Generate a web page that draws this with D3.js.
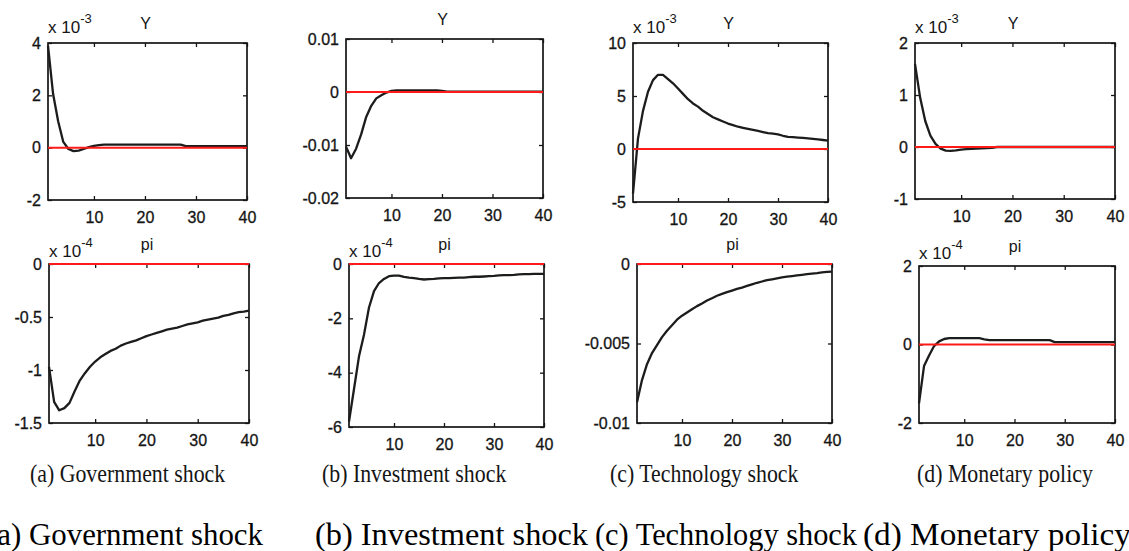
<!DOCTYPE html>
<html>
<head>
<meta charset="utf-8">
<script src="https://cdn.jsdelivr.net/npm/d3@7/dist/d3.min.js"></script>
<style>
  body { margin: 0; background: #fff; }
  svg { display: block; }
</style>
</head>
<body>
<script>
// impulse responses, periods 1..40
var periods = [1,2,3,4,5,6,7,8,9,10,11,12,13,14,15,16,17,18,19,20,
               21,22,23,24,25,26,27,28,29,30,31,32,33,34,35,36,37,38,39,40];
var xTicks = [10, 20, 30, 40];

// Y responses
var yGov = [3.9,2.05,1.0,0.22,-0.05,-0.13,-0.11,-0.05,0.02,0.07,0.1,0.12,0.12,0.12,0.12,0.12,0.12,0.12,0.12,0.12,
            0.12,0.12,0.12,0.12,0.12,0.12,0.12,0.06,0.06,0.06,0.06,0.06,0.06,0.06,0.06,0.06,0.06,0.06,0.06,0.06]; // x 10^-3
var yInv = [-0.0103,-0.0125,-0.0107,-0.008,-0.0047,-0.0026,-0.0012,-0.0006,-0.0001,0.0002,
            0.0003,0.0003,0.0003,0.0003,0.0003,0.0003,0.0003,0.0003,0.0003,0.0002,
            0.00005,0.00005,0.00005,0.00005,0.00005,0.00005,0.00005,0.00005,0.00005,0.00005,
            0.00005,0.00005,0.00005,0.00005,0.00005,0.00005,0.00005,0.00005,0.00005,0.00005];
var yTech = [-4.2,1.0,3.6,5.4,6.5,7.0,7.0,6.6,6.2,5.7,5.2,4.7,4.3,4.0,3.6,3.3,3.0,2.8,2.6,2.4,
             2.25,2.1,2.0,1.9,1.8,1.7,1.6,1.5,1.45,1.38,1.25,1.15,1.12,1.08,1.05,1.0,0.95,0.9,0.85,0.8]; // x 10^-3
var yMon = [1.6,0.95,0.5,0.22,0.06,-0.03,-0.07,-0.075,-0.065,-0.05,-0.04,-0.035,-0.03,-0.025,-0.02,-0.015,0,0,0,0,
            0,0,0,0,0,0,0,0,0,0,0,0,0,0,0,0,0,0,0,0]; // x 10^-3

// pi responses
var piGov = [-0.97,-1.3,-1.38,-1.36,-1.31,-1.2,-1.1,-1.03,-0.97,-0.92,-0.88,-0.85,-0.82,-0.8,-0.77,-0.75,-0.735,-0.72,-0.7,-0.68,
             -0.665,-0.65,-0.635,-0.62,-0.61,-0.6,-0.585,-0.57,-0.56,-0.55,-0.535,-0.525,-0.515,-0.505,-0.49,-0.48,-0.465,-0.455,-0.45,-0.44]; // x 10^-4
var piInv = [-5.8,-4.6,-3.4,-2.6,-1.6,-1.0,-0.7,-0.55,-0.45,-0.43,-0.43,-0.47,-0.5,-0.52,-0.55,-0.57,-0.56,-0.55,-0.53,-0.52,
             -0.52,-0.51,-0.5,-0.5,-0.48,-0.47,-0.47,-0.46,-0.45,-0.44,-0.42,-0.41,-0.41,-0.4,-0.38,-0.37,-0.37,-0.36,-0.36,-0.36]; // x 10^-4
var piTech = [-0.0087,-0.0073,-0.0063,-0.0056,-0.0051,-0.0046,-0.0042,-0.00385,-0.0035,-0.00325,
              -0.00305,-0.00285,-0.00265,-0.00248,-0.0023,-0.00215,-0.002,-0.00188,-0.00177,-0.00167,
              -0.00157,-0.00148,-0.00138,-0.00128,-0.00118,-0.0011,-0.00102,-0.00096,-0.0009,-0.00084,
              -0.0008,-0.00076,-0.00072,-0.00068,-0.00064,-0.0006,-0.00057,-0.00053,-0.0005,-0.00048];
var piMon = [-1.5,-0.55,-0.28,-0.04,0.08,0.14,0.16,0.16,0.16,0.16,0.16,0.16,0.16,0.13,0.11,0.11,0.11,0.11,0.11,0.11,
             0.11,0.11,0.11,0.11,0.11,0.11,0.11,0.06,0.06,0.06,0.06,0.06,0.06,0.06,0.06,0.06,0.06,0.06,0.06,0.06]; // x 10^-4

// y tick values
var govYTicks = [-2, 0, 2, 4];
var invYTicks = [-0.02, -0.01, 0, 0.01];
var techYTicks = [-5, 0, 5, 10];
var monYTicks = [-1, 0, 1, 2];
var govPiTicks = [-1.5, -1, -0.5, 0];
var invPiTicks = [-6, -4, -2, 0];
var techPiTicks = [-0.01, -0.005, 0];
var monPiTicks = [-2, 0, 2];

var captions = ["(a) Government shock", "(b) Investment shock", "(c) Technology shock", "(d) Monetary policy"];

var W = 1129, H = 551;
var svg = d3.select("body").append("svg").attr("width", W).attr("height", H);

var sans = "Arial, 'Liberation Sans', sans-serif";
var serif = "'Times New Roman', 'Liberation Serif', serif";
var ink = "#151515";

// box = [left, right, top, bottom]
var panels = [
  {box: [48, 247, 43, 200],  vals: yGov,   ticks: govYTicks,   exp: "-3", title: "Y"},
  {box: [346, 543, 39, 198], vals: yInv,   ticks: invYTicks,   exp: null, title: "Y"},
  {box: [633, 828, 43, 202], vals: yTech,  ticks: techYTicks,  exp: "-3", title: "Y"},
  {box: [915, 1115, 43, 199],vals: yMon,   ticks: monYTicks,   exp: "-3", title: "Y"},
  {box: [49, 249, 264, 423], vals: piGov,  ticks: govPiTicks,  exp: "-4", title: "pi"},
  {box: [349, 544, 264, 427],vals: piInv,  ticks: invPiTicks,  exp: "-4", title: "pi"},
  {box: [637, 832, 264, 423],vals: piTech, ticks: techPiTicks, exp: null, title: "pi"},
  {box: [919, 1115, 266, 423],vals: piMon, ticks: monPiTicks,  exp: "-4", title: "pi"}
];

panels.forEach(function(p) {
  var x = d3.scaleLinear().domain([1, 40]).range([p.box[0], p.box[1]]);
  var y = d3.scaleLinear().domain(d3.extent(p.ticks)).range([p.box[3], p.box[2]]);
  var g = svg.append("g");

  // box
  g.append("rect")
    .attr("x", p.box[0]).attr("y", p.box[2])
    .attr("width", p.box[1] - p.box[0]).attr("height", p.box[3] - p.box[2])
    .attr("fill", "none").attr("stroke", ink).attr("stroke-width", 1.7);

  // axes with inward ticks
  var bottom = g.append("g").attr("transform", "translate(0," + p.box[3] + ")")
    .call(d3.axisBottom(x).tickValues(xTicks).tickSizeInner(-4).tickSizeOuter(0).tickPadding(8));
  var left = g.append("g").attr("transform", "translate(" + p.box[0] + ",0)")
    .call(d3.axisLeft(y).tickValues(p.ticks).tickSizeInner(-4).tickSizeOuter(0).tickPadding(7)
      .tickFormat(function(d) { return String(d); }));
  var top = g.append("g").attr("transform", "translate(0," + p.box[2] + ")")
    .call(d3.axisTop(x).tickValues(xTicks).tickSizeInner(-4).tickSizeOuter(0).tickFormat(""));
  var right = g.append("g").attr("transform", "translate(" + p.box[1] + ",0)")
    .call(d3.axisRight(y).tickValues(p.ticks).tickSizeInner(-4).tickSizeOuter(0).tickFormat(""));

  [bottom, left, top, right].forEach(function(a) {
    a.select(".domain").remove();
    a.selectAll("line").attr("stroke", ink).attr("stroke-width", 1.3);
    a.selectAll("text").attr("fill", ink)
      .attr("stroke", ink).attr("stroke-width", 0.3)
      .style("font-family", sans).style("font-size", "16px");
  });
  bottom.selectAll("text").attr("dy", "0.95em");

  // response curve
  g.append("path")
    .datum(p.vals)
    .attr("fill", "none").attr("stroke", "#1c1c1c").attr("stroke-width", 2.3)
    .attr("stroke-linejoin", "round")
    .attr("d", d3.line().x(function(d, i) { return x(periods[i]); }).y(function(d) { return y(d); }));

  // zero line
  g.append("line")
    .attr("x1", p.box[0]).attr("x2", p.box[1])
    .attr("y1", y(0)).attr("y2", y(0))
    .attr("stroke", "#ff1a1a").attr("stroke-width", 2);

  // title
  g.append("text")
    .attr("x", (p.box[0] + p.box[1]) / 2 - 2).attr("y", p.box[2] - 14)
    .attr("text-anchor", "middle").attr("fill", ink)
    .style("font-family", sans).style("font-size", "16px")
    .text(p.title);

  // exponent label
  if (p.exp) {
    var ex = g.append("text")
      .attr("x", p.box[0]).attr("y", p.box[2] - (p.title === "Y" ? 10 : 7))
      .attr("fill", ink).style("font-family", sans).style("font-size", "17px");
    ex.append("tspan").text("x 10");
    ex.append("tspan").attr("dy", -10.5).style("font-size", "13px").text(p.exp);
  }
});

// small captions under the panels
var cap1x = [30, 322, 610, 917];
captions.forEach(function(c, i) {
  svg.append("text")
    .attr("transform", "translate(" + cap1x[i] + ",482) scale(0.84,1)")
    .attr("fill", ink)
    .style("font-family", serif).style("font-size", "26px")
    .text(c);
});

// large captions row (first one runs off the left edge, as in the source)
var cap2x = [-13, 315, 595, 863];
var cap2w = [276, 273, 262, 268];
captions.forEach(function(c, i) {
  svg.append("text")
    .attr("x", cap2x[i]).attr("y", 545)
    .attr("textLength", cap2w[i]).attr("lengthAdjust", "spacingAndGlyphs")
    .attr("fill", "#000")
    .style("font-family", serif).style("font-size", "31px")
    .text(c);
});
</script>
</body>
</html>
